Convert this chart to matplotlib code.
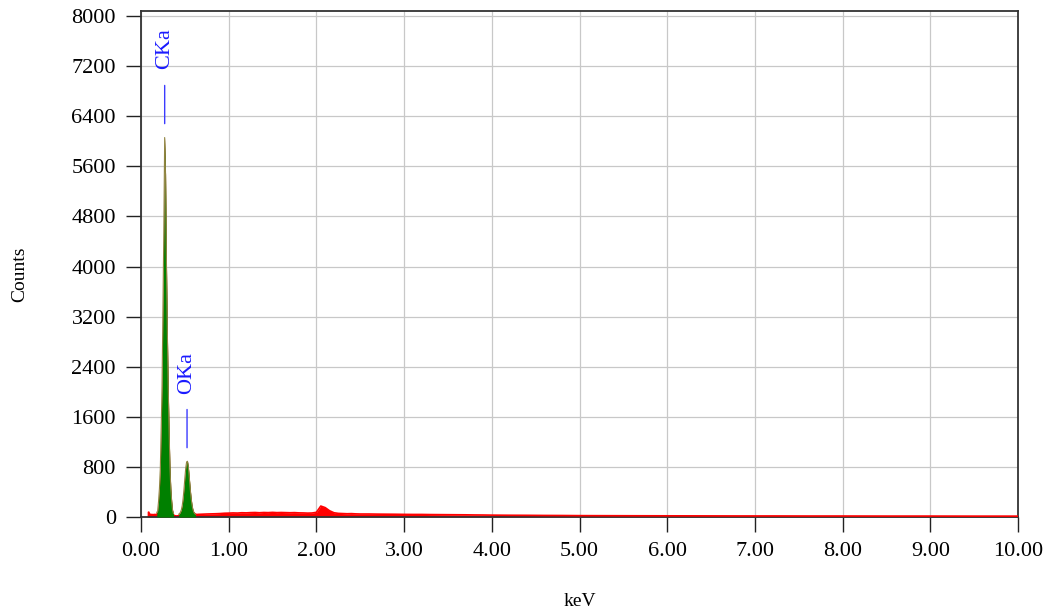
import matplotlib

matplotlib.use("Agg")
import matplotlib.pyplot as plt
import numpy as np

plt.rcParams["font.family"] = ["Liberation Serif", "DejaVu Serif"]

# EDS spectrum, counts per channel (keV)
KEV_LOW = [0.07, 0.08, 0.09, 0.10, 0.11, 0.12, 0.13, 0.14, 0.15, 0.16,
           0.17, 0.18, 0.19, 0.20, 0.21, 0.22, 0.23, 0.24, 0.25, 0.26,
           0.27, 0.28, 0.29, 0.30, 0.31, 0.32, 0.33, 0.34, 0.35, 0.36,
           0.37, 0.38, 0.39, 0.40, 0.41, 0.42, 0.43, 0.44, 0.45, 0.46,
           0.47, 0.48, 0.49, 0.50, 0.51, 0.52, 0.53, 0.54, 0.55, 0.56,
           0.57, 0.58, 0.59, 0.60, 0.61, 0.62, 0.63, 0.64, 0.65]
CNT_LOW = [90, 100, 95, 65, 60, 62, 58, 60, 62, 60,
           65, 75, 95, 250, 450, 760, 1400, 2100, 3300, 4550,
           6060, 5470, 4080, 3000, 2100, 1400, 800, 450, 250, 110,
           55, 42, 40, 38, 40, 42, 45, 55, 75, 115,
           180, 290, 440, 620, 780, 880, 890, 800, 640, 470,
           320, 210, 130, 85, 58, 45, 42, 40, 42]

KEV_MID = [0.70, 0.75, 0.80, 0.85, 0.90, 0.95, 1.00, 1.05, 1.10, 1.15,
           1.20, 1.25, 1.30, 1.35, 1.40, 1.45, 1.50, 1.55, 1.60, 1.65,
           1.70, 1.75, 1.80, 1.85, 1.90, 1.95, 2.00, 2.05, 2.10, 2.15,
           2.20, 2.25, 2.30, 2.35, 2.40, 2.45, 2.50]
CNT_MID = [45, 48, 50, 52, 55, 60, 62, 65, 63, 68,
           66, 70, 72, 68, 72, 70, 74, 70, 72, 70,
           68, 70, 66, 65, 62, 64, 75, 175, 150, 100,
           68, 58, 55, 52, 54, 50, 48]

KEV_HIGH = [2.6, 2.7, 2.8, 2.9, 3.0, 3.1, 3.2, 3.3, 3.4, 3.5,
            3.6, 3.7, 3.8, 3.9, 4.0, 4.2, 4.4, 4.6, 4.8, 5.0,
            5.3, 5.6, 6.0, 6.4, 6.8, 7.2, 7.6, 8.0, 8.5, 9.0,
            9.5, 10.0]
CNT_HIGH = [48, 46, 45, 44, 42, 41, 41, 39, 38, 37,
            36, 35, 33, 32, 30, 28, 27, 25, 24, 22,
            21, 20, 19, 18, 17, 17, 16, 16, 15, 15,
            14, 14]

# element regions of interest and their line labels
ROI_LO = [0.18, 0.43]
ROI_HI = [0.37, 0.62]
LINE_NAMES = ["CKa", "OKa"]
LINE_KEV = [0.27, 0.525]

kev = np.array(KEV_LOW + KEV_MID + KEV_HIGH)
counts = np.array(CNT_LOW + CNT_MID + CNT_HIGH, dtype=float)

fig = plt.figure(figsize=(10.53, 6.16), dpi=100)
ax = fig.add_axes([0.1339, 0.1607, 0.8329, 0.8214])

# background in red, element peaks filled green on top
ax.fill_between(kev, 0, counts, color="#ff0000", lw=0, zorder=2)
bg = kev > 0.6
ax.plot(kev[bg], counts[bg], color="#ff0000", lw=1.2, zorder=3)
for lo, hi in zip(ROI_LO, ROI_HI):
    m = (kev >= lo) & (kev <= hi)
    ax.fill_between(kev[m], 0, counts[m], color="#008000", lw=0, zorder=3)
    ax.plot(kev[m], counts[m], color="#8f8440", lw=0.8, zorder=4)

for name, e in zip(LINE_NAMES, LINE_KEV):
    top = float(np.interp(e, kev, counts))
    ax.annotate("", xy=(e, top), xytext=(0, 37.5), textcoords="offset points",
                arrowprops=dict(arrowstyle="-", color="#3b3bff", lw=1.0,
                                shrinkA=0, shrinkB=10))
    ax.annotate(name, xy=(e, top), xytext=(0, 49), textcoords="offset points",
                rotation=90, ha="center", va="bottom", color="#1a1aff",
                fontsize=16)

ax.set_xlim(0, 10)
ax.set_ylim(0, 8080)
ax.set_xticks(np.arange(0, 10.01, 1.0))
ax.set_yticks(np.arange(0, 8001, 800))
ax.set_xticklabels(["%.2f" % v for v in np.arange(0, 10.01, 1.0)])
ax.set_yticklabels(["%d" % v for v in np.arange(0, 8001, 800)])

ax.grid(True, color="#c8c8c8", lw=0.9)
ax.set_axisbelow(True)
ax.tick_params(direction="out", length=11, width=1.0, color="#222222",
               labelsize=16, pad=7)
for sp in ax.spines.values():
    sp.set_color("#333333")
    sp.set_linewidth(1.3)

ax.set_xlabel("keV", fontsize=14)
ax.set_ylabel("Counts", fontsize=14)
ax.xaxis.set_label_coords(0.5, -0.15)
ax.yaxis.set_label_coords(-0.128, 0.48)

fig.savefig("out.png", dpi=100)
